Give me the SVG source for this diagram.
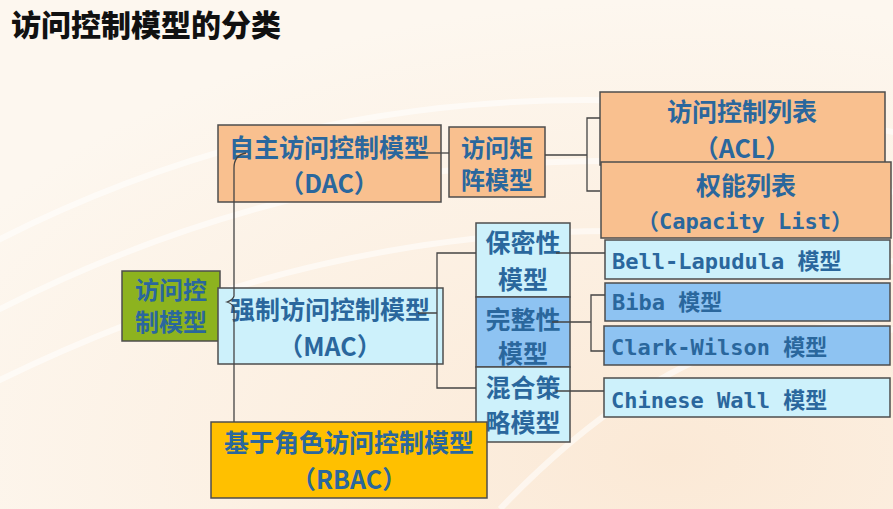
<svg xmlns="http://www.w3.org/2000/svg" width="893" height="509" viewBox="0 0 893 509">
<defs>
<radialGradient id="bg" cx="0.75" cy="0.9" r="0.9">
<stop offset="0" stop-color="#fbe9d6"/>
<stop offset="1" stop-color="#fdf7ef"/>
</radialGradient>
</defs>
<style>
.box{stroke:#4d4d4d;stroke-width:1.5}
.org{fill:#f9c08f}
.cy{fill:#cdf1fb}
.bl{fill:#8ec3f2}
.gr{fill:#8db31f}
.gd{fill:#ffc000}
.t{font-family:"Noto Sans CJK SC","Liberation Sans",sans-serif;font-size:25px;font-weight:bold;fill:#2a679d;text-anchor:middle}
.s{font-size:24px}
.m{font-family:"DejaVu Sans Mono","Noto Sans CJK SC",monospace;font-size:22px;font-weight:bold;fill:#2a679d}
.c{fill:none;stroke:#444;stroke-width:1.3}
.arc{fill:none;stroke:#ffffff;stroke-opacity:0.55;stroke-width:6}
</style>
<rect width="893" height="509" fill="url(#bg)"/>
<g>
<path class="arc" d="M-40 260 Q400 20 930 140"/>
<path class="arc" d="M-40 330 Q420 80 930 200"/>
<path class="arc" d="M-40 400 Q440 150 930 270"/>
<path class="arc" d="M 500 509 Q700 300 893 330"/>
</g>
<text x="11" y="36" font-family="'Noto Sans CJK SC',sans-serif" font-size="30" font-weight="900" fill="#111">访问控制模型的分类</text>

<g id="root"><rect class="box gr" x="122" y="271" width="98" height="70"/>
<text class="t s" x="171" y="299">访问控</text><text class="t s" x="171" y="331">制模型</text></g>

<g id="dac"><rect class="box org" x="218" y="125" width="223" height="77"/>
<text class="t" x="329" y="157">自主访问控制模型</text><text class="t" x="329" y="193">（DAC）</text></g>

<g id="matrix"><rect class="box org" x="449" y="127" width="96" height="70"/>
<text class="t s" x="497" y="157">访问矩</text><text class="t s" x="497" y="189">阵模型</text></g>

<g id="acl"><rect class="box org" x="600" y="92" width="285" height="73"/>
<text class="t" x="742" y="121">访问控制列表</text><text class="t" x="742" y="158">（ACL）</text></g>

<g id="cap"><rect class="box org" x="601" y="162" width="290" height="76"/>
<text class="t" x="746" y="195">权能列表</text><text class="m" x="745" y="229" text-anchor="middle">（Capacity List）</text></g>

<g id="mac"><rect class="box cy" x="218" y="288" width="225" height="76"/>
<text class="t" x="330" y="319">强制访问控制模型</text><text class="t" x="330" y="356">（MAC）</text></g>

<g id="conf"><rect class="box cy" x="476" y="223" width="94" height="74"/>
<text class="t" x="523" y="252">保密性</text><text class="t" x="523" y="289">模型</text></g>

<g id="integ"><rect class="box bl" x="476" y="297" width="94" height="70"/>
<text class="t" x="523" y="329">完整性</text><text class="t" x="523" y="363">模型</text></g>

<g id="hybrid"><rect class="box cy" x="476" y="367" width="94" height="75"/>
<text class="t" x="523" y="397">混合策</text><text class="t" x="523" y="432">略模型</text></g>

<g id="bell"><rect class="box cy" x="605" y="240" width="285" height="39"/>
<text class="m" x="612" y="269">Bell-Lapudula 模型</text></g>

<g id="biba"><rect class="box bl" x="605" y="283" width="285" height="38"/>
<text class="m" x="612" y="310">Biba 模型</text></g>

<g id="clark"><rect class="box bl" x="604" y="326" width="286" height="39"/>
<text class="m" x="611" y="355">Clark-Wilson 模型</text></g>

<g id="chinese"><rect class="box cy" x="604" y="378" width="286" height="39"/>
<text class="m" x="611" y="408">Chinese Wall 模型</text></g>

<g id="rbac"><rect class="box gd" x="211" y="422" width="276" height="76"/>
<text class="t" x="349" y="452">基于角色访问控制模型</text><text class="t" x="349" y="489">（RBAC）</text></g>

<g id="connectors">
<path class="c" d="M246 153 Q234 155 234 168 L234 296 Q233 300 227 302 Q233 304 234 308 L234 422"/>
<path class="c" d="M420 153 H449"/>
<path class="c" d="M545 155 H587 M600 118 H587 V191 H600"/>
<path class="c" d="M418 313 H437 M476 253 H437 V388 H476"/>
<path class="c" d="M556 253 H605"/>
<path class="c" d="M552 322 H591 M605 295 H591 V351 H605"/>
<path class="c" d="M556 391 H604"/>
</g>
</svg>
